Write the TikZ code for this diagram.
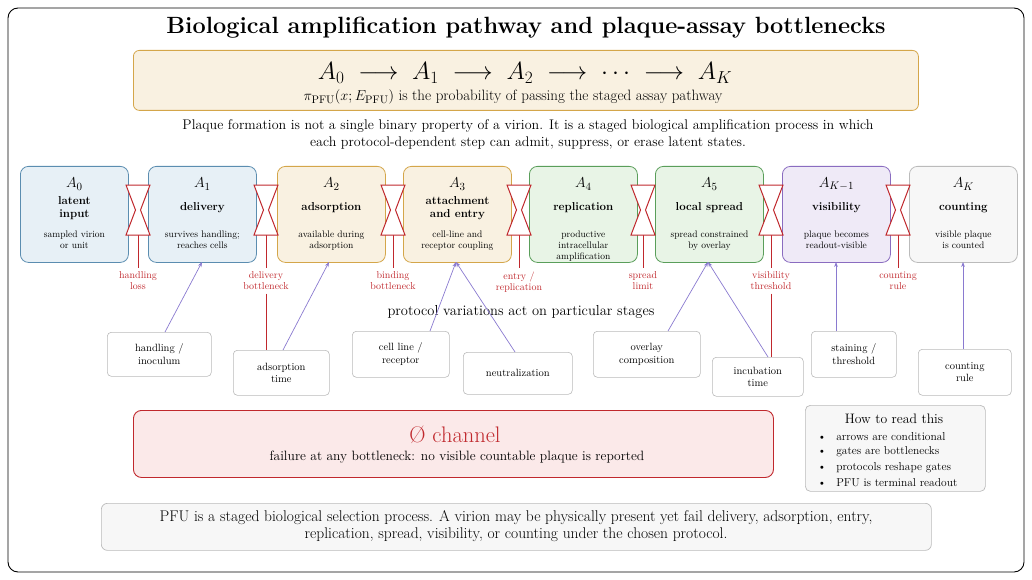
\documentclass[tikz,border=0pt]{standalone}
\usetikzlibrary{arrows.meta}
\definecolor{bluef}{HTML}{E7F0F6}\definecolor{blued}{HTML}{5B8DB0}
\definecolor{tanf}{HTML}{F9F1E1}\definecolor{tand}{HTML}{D4A64A}
\definecolor{grnf}{HTML}{E8F4E6}\definecolor{grnd}{HTML}{5A9E5A}
\definecolor{purf}{HTML}{EFEAF7}\definecolor{purd}{HTML}{8A6CC0}
\definecolor{gryf}{HTML}{F7F7F7}\definecolor{gryd}{HTML}{BBBBBB}
\definecolor{redd}{HTML}{C0282D}\definecolor{redf}{HTML}{FBE9E9}
\definecolor{arr}{HTML}{8A7AD0}
\begin{document}
\begin{tikzpicture}[x=1pt,y=-1pt,
 stage/.style={draw=#1d,fill=#1f,rounded corners=8pt,line width=0.8pt,minimum width=108pt,minimum height=96pt,anchor=north west,inner sep=0pt},
 ttl/.style={font=\fontsize{15}{15}\selectfont},
 bf/.style={font=\fontsize{11.5}{13}\selectfont\bfseries,align=center},
 sm/.style={font=\fontsize{9.5}{11}\selectfont,align=center},
 gate/.style={draw=redd,fill=white,line width=1pt},
 glab/.style={text=redd,font=\fontsize{10}{11.5}\selectfont,align=center},
 stem/.style={draw=redd,color=redd,line width=0.8pt},
 proto/.style={draw=gryd,fill=white,rounded corners=4pt,line width=0.6pt,anchor=north west,font=\fontsize{10.5}{12.5}\selectfont,align=center,inner sep=0pt},
 pa/.style={draw=arr,line width=0.7pt,-{Stealth[length=5pt]}}]
\useasboundingbox (0,0) rectangle (1032,580);
\draw[rounded corners=10pt,line width=0.9pt] (8,8) rectangle (1024,572);
\node at (526,28) {\fontsize{23.5}{25}\selectfont\bfseries Biological amplification pathway and plaque-assay bottlenecks};
\node[draw=tand,fill=tanf,rounded corners=6pt,minimum width=785pt,minimum height=60pt,anchor=north west,line width=0.8pt] (top) at (133,50) {};
\node at (525,73) {\fontsize{24}{24}\selectfont $A_0 \;\longrightarrow\; A_1 \;\longrightarrow\; A_2 \;\longrightarrow\; \cdots \;\longrightarrow\; A_K$};
\node at (513,97) {\fontsize{15}{16}\selectfont $\pi_{\mathrm{PFU}}(x;E_{\mathrm{PFU}})$ is the probability of passing the staged assay pathway};
\node[align=center,font=\fontsize{14}{17}\selectfont] at (528,134) {Plaque formation is not a single binary property of a virion. It is a staged biological amplification process in which\\each protocol-dependent step can admit, suppress, or erase latent states.};
% stages
\foreach \n/\x/\c/\a/\b/\s in {0/20/blue/A_0/latent\\input/sampled virion\\or unit,
 1/148/blue/A_1/delivery/survives handling;\\reaches cells,
 2/277/tan/A_2/adsorption/available during\\adsorption,
 3/403/tan/A_3/attachment\\and entry/cell-line and\\receptor coupling,
 4/529/grn/A_4/replication/productive\\intracellular\\amplification,
 5/655/grn/A_5/local spread/spread constrained\\by overlay,
 6/782/pur/A_{K-1}/visibility/plaque becomes\\readout-visible,
 7/909/gry/A_K/counting/visible plaque\\is counted}{
 \node[stage=\c] (s\n) at (\x,166) {};
 \node[ttl] at ([yshift=-18pt]s\n.north) {$\a$};
 \node[bf,anchor=center] at ([yshift=-42pt]s\n.north) {\b};
 \node[sm,anchor=north] at ([yshift=-61pt]s\n.north) {\s};
}
% gates
\foreach \g/\x/\l in {a/138/handling\\loss,b/266/delivery\\bottleneck,c/393/binding\\bottleneck,d/519/{entry /\\replication},e/643/spread\\limit,f/771/visibility\\threshold,g/898/counting\\rule}{
 \coordinate (g\g) at (\x,210);
 \node[glab,anchor=north] (l\g) at (\x,268) {\l};
 \draw[stem] (\x,235) -- (l\g.north);
 \draw[gate] (\x-12,185) -- (\x+12,185) -- (\x+2.5,210) -- (\x+12,235) -- (\x-12,235) -- (\x-2.5,210) -- cycle;
}
% protocol boxes
\node[font=\fontsize{14.5}{15}\selectfont] at (521,312) {protocol variations act on particular stages};
\node[proto,minimum width=104pt,minimum height=44pt] (p1) at (107,332) {handling /\\inoculum};
\node[proto,minimum width=96pt,minimum height=45pt] (p2) at (233,350) {adsorption\\time};
\node[proto,minimum width=97pt,minimum height=46pt] (p3) at (352,331) {cell line /\\receptor};
\node[proto,minimum width=109pt,minimum height=42pt] (p4) at (463,352) {neutralization};
\node[proto,minimum width=107pt,minimum height=46pt] (p5) at (593,331) {overlay\\composition};
\node[proto,minimum width=91pt,minimum height=39pt] (p6) at (712,357) {incubation\\time};
\node[proto,minimum width=85pt,minimum height=46pt] (p7) at (811,331) {staining /\\threshold};
\node[proto,minimum width=93pt,minimum height=46pt] (p8) at (918,349) {counting\\rule};
\draw[stem] (lb.south) -- (p2.north -| lb.south);
\draw[stem] (lf.south) -- (p6.north -| lf.south);
\draw[pa] (165,332) -- (202,262);
\draw[pa] (283,350) -- (329,262);
\draw[pa] (430,331) -- (456,262);
\draw[pa] (515,352) -- (456,262);
\draw[pa] (668,331) -- (708,262);
\draw[pa] (768,357) -- (708,262);
\draw[pa] (836,331) -- (836,262);
\draw[pa] (963,349) -- (963,262);
% channel
\node[draw=redd,fill=redf,rounded corners=8pt,line width=0.9pt,minimum width=640pt,minimum height=67pt,anchor=north west] (ch) at (133,410) {};
\node[text=redd] at (455,435) {\fontsize{22.5}{23}\selectfont Ø channel};
\node at (457,457) {\fontsize{13.5}{14}\selectfont failure at any bottleneck: no visible countable plaque is reported};
% legend
\node[draw=gryd,fill=gryf,rounded corners=5pt,line width=0.7pt,minimum width=180pt,minimum height=86pt,anchor=north west] (lg) at (805,405) {};
\node at (894,419) {\fontsize{13.7}{14}\selectfont How to read this};
\foreach \t [count=\i] in {arrows are conditional,gates are bottlenecks,protocols reshape gates,PFU is terminal readout}{
 \node[anchor=west,font=\fontsize{11.5}{12}\selectfont] at (814,421+15.5*\i) {\textbullet\hspace{10pt}\t};}
% bottom
\node[draw=gryd,fill=gryf,rounded corners=6pt,line width=0.7pt,minimum width=830pt,minimum height=47pt,anchor=north west] (bt) at (101,503) {};
\node[align=center,font=\fontsize{15.5}{17}\selectfont] at (516,526) {PFU is a staged biological selection process. A virion may be physically present yet fail delivery, adsorption, entry,\\replication, spread, visibility, or counting under the chosen protocol.};
\end{tikzpicture}
\end{document}
